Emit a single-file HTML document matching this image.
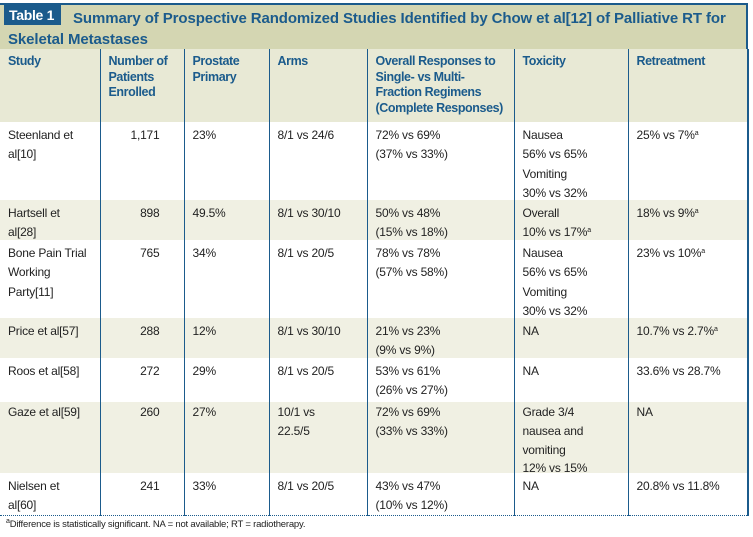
<!DOCTYPE html>
<html><head><meta charset="utf-8"><style>
body{margin:0;width:753px;height:537px;background:#fff;font-family:"Liberation Sans",sans-serif;overflow:hidden;position:relative}
#title{position:absolute;left:0;top:3px;width:748px;height:46px;background:#d4d6b2;border-top:2px solid #1b5b8c;border-right:2px solid #1b5b8c;box-sizing:border-box}
#tag{position:absolute;left:4px;top:0;width:57px;height:20px;background:#1b5b8c;color:#fff;font-weight:bold;font-size:14px;line-height:20px;padding-left:5px;box-sizing:border-box;letter-spacing:-0.3px}
#ttext{position:absolute;left:8px;top:3px;width:740px;color:#1b5b8c;font-weight:bold;font-size:15px;line-height:21px;letter-spacing:-0.1px;white-space:nowrap}
table{position:absolute;left:0;top:49px;border-collapse:collapse;table-layout:fixed;width:748px;border-right:2px solid #1b5b8c}
td,th{vertical-align:top;font-size:12px;line-height:19.3px;padding:0 0 0 8px;border-left:1.5px solid #1b5b8c;color:#222;font-weight:normal;text-align:left;white-space:nowrap;overflow:visible;letter-spacing:-0.2px}
td>div,th>div{height:0;overflow:visible;position:relative;top:4px}
th>div{top:5px}
tr.gz td>div{top:1px;line-height:18.8px}
td:first-child,th:first-child{border-left:none}
th{color:#1b5b8c;font-weight:bold;font-size:12.5px;background:#e8e9d5;line-height:15.5px;letter-spacing:-0.4px}
tr.alt td{background:#f0f0e3}
td.num{text-align:right;padding-right:24px}
tr.last td{border-bottom:1.5px dotted #1b5b8c}
#foot{position:absolute;left:6px;top:519px;font-size:9.5px;color:#222;letter-spacing:-0.2px}
sup{font-size:7px;line-height:0;vertical-align:4px}
</style></head><body>
<div id="title">
<div id="tag">Table 1</div>
<div id="ttext"><span style="display:inline-block;width:65px"></span>Summary of Prospective Randomized Studies Identified by Chow et al[12] of Palliative RT for<br>Skeletal Metastases</div>
</div>
<table>
<colgroup><col style="width:100px"><col style="width:84px"><col style="width:85px"><col style="width:98px"><col style="width:147px"><col style="width:114px"><col style="width:120px"></colgroup>
<tr style="height:73px"><th><div>Study</div></th><th><div>Number of<br>Patients<br>Enrolled</div></th><th><div>Prostate<br>Primary</div></th><th><div>Arms</div></th><th><div>Overall Responses to<br>Single- vs Multi-<br>Fraction Regimens<br>(Complete Responses)</div></th><th><div>Toxicity</div></th><th><div>Retreatment</div></th></tr>
<tr style="height:78px"><td><div>Steenland et<br>al[10]</div></td><td class="num"><div>1,171</div></td><td><div>23%</div></td><td><div>8/1 vs 24/6</div></td><td><div>72% vs 69%<br>(37% vs 33%)</div></td><td><div>Nausea<br>56% vs 65%<br>Vomiting<br>30% vs 32%</div></td><td><div>25% vs 7%<sup>a</sup></div></td></tr>
<tr class="alt" style="height:40px"><td><div>Hartsell et<br>al[28]</div></td><td class="num"><div>898</div></td><td><div>49.5%</div></td><td><div>8/1 vs 30/10</div></td><td><div>50% vs 48%<br>(15% vs 18%)</div></td><td><div>Overall<br>10% vs 17%<sup>a</sup></div></td><td><div>18% vs 9%<sup>a</sup></div></td></tr>
<tr style="height:78px"><td><div>Bone Pain Trial<br>Working<br>Party[11]</div></td><td class="num"><div>765</div></td><td><div>34%</div></td><td><div>8/1 vs 20/5</div></td><td><div>78% vs 78%<br>(57% vs 58%)</div></td><td><div>Nausea<br>56% vs 65%<br>Vomiting<br>30% vs 32%</div></td><td><div>23% vs 10%<sup>a</sup></div></td></tr>
<tr class="alt" style="height:40px"><td><div>Price et al[57]</div></td><td class="num"><div>288</div></td><td><div>12%</div></td><td><div>8/1 vs 30/10</div></td><td><div>21% vs 23%<br>(9% vs 9%)</div></td><td><div>NA</div></td><td><div>10.7% vs 2.7%<sup>a</sup></div></td></tr>
<tr style="height:44px"><td><div>Roos et al[58]</div></td><td class="num"><div>272</div></td><td><div>29%</div></td><td><div>8/1 vs 20/5</div></td><td><div>53% vs 61%<br>(26% vs 27%)</div></td><td><div>NA</div></td><td><div>33.6% vs 28.7%</div></td></tr>
<tr class="alt gz" style="height:71px"><td><div>Gaze et al[59]</div></td><td class="num"><div>260</div></td><td><div>27%</div></td><td><div>10/1 vs<br>22.5/5</div></td><td><div>72% vs 69%<br>(33% vs 33%)</div></td><td><div>Grade 3/4<br>nausea and<br>vomiting<br>12% vs 15%</div></td><td><div>NA</div></td></tr>
<tr class="last" style="height:42px"><td><div>Nielsen et<br>al[60]</div></td><td class="num"><div>241</div></td><td><div>33%</div></td><td><div>8/1 vs 20/5</div></td><td><div>43% vs 47%<br>(10% vs 12%)</div></td><td><div>NA</div></td><td><div>20.8% vs 11.8%</div></td></tr>
</table>
<div id="foot"><sup>a</sup>Difference is statistically significant. NA = not available; RT = radiotherapy.</div>
</body></html>
